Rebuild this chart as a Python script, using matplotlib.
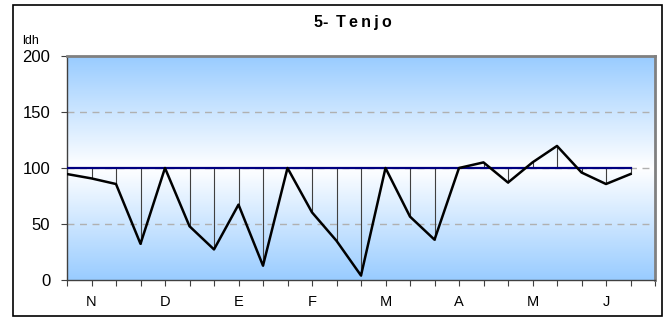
import numpy as np
import matplotlib.pyplot as plt
from matplotlib.colors import LinearSegmentedColormap
from matplotlib.patches import Rectangle

plt.rcParams['font.family'] = ['Liberation Sans', 'DejaVu Sans']

# decadal index values (3 per month, Nov..Jun)
values = [94.6, 90.7, 85.7, 32.3, 100, 48, 27.3, 67.3, 12.8, 100, 60.4, 35,
          4, 100, 56.6, 36, 100, 105, 87, 105, 119.7, 96, 85.7, 94.6]
months = ['N', 'D', 'E', 'F', 'M', 'A', 'M', 'J']
ref_level = 100

x = np.arange(len(values))

fig = plt.figure(figsize=(6.72, 3.18), dpi=100)
ax = fig.add_axes([67/672, 1 - 280/318, 588/672, 224/318])

# background gradient blue - white - blue
cmap = LinearSegmentedColormap.from_list('bg', ['#99ccff', '#ffffff', '#99ccff'])
grad = np.linspace(0, 1, 256).reshape(-1, 1)
ax.imshow(grad, aspect='auto', cmap=cmap, extent=[0, 24, 0, 200], origin='lower', zorder=0)

for g in [50, 100, 150]:
    ax.axhline(g, color='#b0b0b0', lw=1, ls=(0, (5, 4)), zorder=1)

# drop lines from each point to the reference
ax.vlines(x[1:], values[1:], ref_level, color='#404040', lw=0.8, zorder=2)
ax.plot([0, len(values) - 1], [ref_level, ref_level], color='#000080', lw=1.6, zorder=3)
ax.plot(x, values, color='black', lw=1.8, zorder=4)

ax.set_xlim(0, 24)
ax.set_ylim(0, 200)
ax.set_yticks([0, 50, 100, 150, 200])
ax.set_xticks(np.arange(0, 25))
ax.set_xticklabels([])
ax.tick_params(axis='x', length=4, color='#404040', direction='out')
ax.tick_params(axis='y', length=4, color='#404040', labelsize=12, pad=8)
for i, m in enumerate(months):
    ax.text(1 + 3 * i, -20, m, ha='center', va='center', fontsize=10.5)

for s in ['top', 'right']:
    ax.spines[s].set_color('#808080')
    ax.spines[s].set_linewidth(2)
for s in ['left', 'bottom']:
    ax.spines[s].set_color('#404040')
    ax.spines[s].set_linewidth(1)

fig.text(0.525, 1 - 22/318, '5-\u2009 T\u2009e\u2009n\u2009j\u2009o', ha='center', va='center',
         fontsize=11.5, fontweight='bold')
fig.text(22/672, 1 - 41/318, 'ldh', ha='left', va='center', fontsize=9)

fig.patches.append(Rectangle((13/672, 2/318), 649/672, 311/318, transform=fig.transFigure,
                             fill=False, edgecolor='black', lw=1.2))

fig.savefig('out.png', dpi=100)
